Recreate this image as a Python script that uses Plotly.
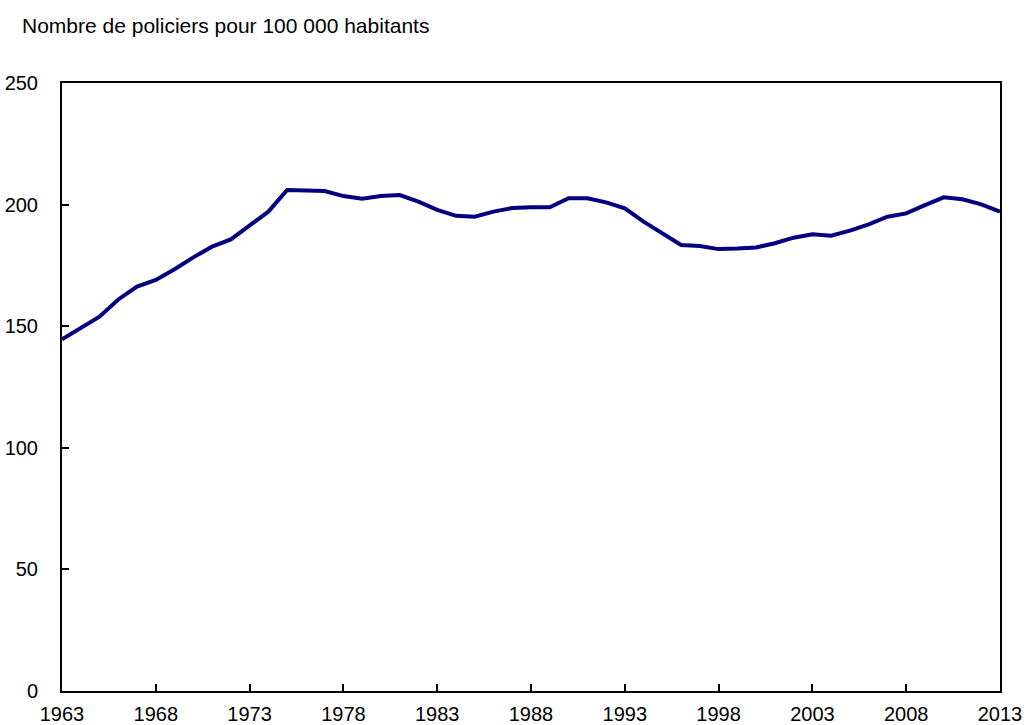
import plotly.graph_objects as go

years = list(range(1963, 2014))
police_per_100k = [
    144.6, 149.1, 153.9, 161.0, 166.3, 169.0, 173.4, 178.3, 182.7, 185.7,
    191.2, 197.1, 206.0, 205.7, 205.6, 203.5, 202.4, 203.5, 203.9, 201.2,
    197.8, 195.4, 195.0, 197.1, 198.6, 198.9, 198.9, 202.6, 202.6, 200.9,
    198.5, 193.0, 188.2, 183.4, 183.0, 181.7, 181.9, 182.4, 184.1, 186.4,
    187.8, 187.2, 189.3, 191.9, 195.0, 196.4, 199.8, 203.0, 202.2, 200.1,
    197.1,
]
x_tick_vals = [1963, 1968, 1973, 1978, 1983, 1988, 1993, 1998, 2003, 2008, 2013]
y_tick_vals = [0, 50, 100, 150, 200, 250]
title_text = "Nombre de policiers pour 100 000 habitants"

fig = go.Figure()
fig.add_trace(go.Scatter(
    x=years, y=police_per_100k, mode="lines",
    line=dict(color="#000080", width=4),
    hoverinfo="skip",
))

font_family = "Liberation Sans, Arial, Helvetica, sans-serif"
fig.update_layout(
    width=1026, height=725,
    margin=dict(l=62, r=26, t=83, b=34, autoexpand=False),
    paper_bgcolor="white", plot_bgcolor="white",
    showlegend=False,
    font=dict(family=font_family, size=20, color="black"),
    xaxis=dict(
        range=[1963, 2013], tickvals=x_tick_vals,
        ticktext=[str(v) for v in x_tick_vals],
        ticks="inside", ticklen=7, tickwidth=2, tickcolor="black",
        showline=True, linecolor="black", linewidth=2, mirror=True,
        showgrid=False, zeroline=False, automargin=False,
        ticklabelstandoff=4,
        tickfont=dict(size=20),
    ),
    yaxis=dict(
        range=[0, 250], tickvals=y_tick_vals,
        ticks="inside", ticklen=7, tickwidth=2, tickcolor="black",
        showline=True, linecolor="black", linewidth=2, mirror=True,
        showgrid=False, zeroline=False, automargin=False,
        ticklabelstandoff=18,
        tickfont=dict(size=20),
    ),
    annotations=[dict(
        text=title_text, xref="paper", yref="paper", x=0, y=1,
        xanchor="left", yanchor="middle", xshift=-42, yshift=58,
        showarrow=False, font=dict(size=21, family=font_family),
    )],
)

fig.write_html("out.html", config={"displayModeBar": False},
               post_script="document.body.style.margin='0';")
